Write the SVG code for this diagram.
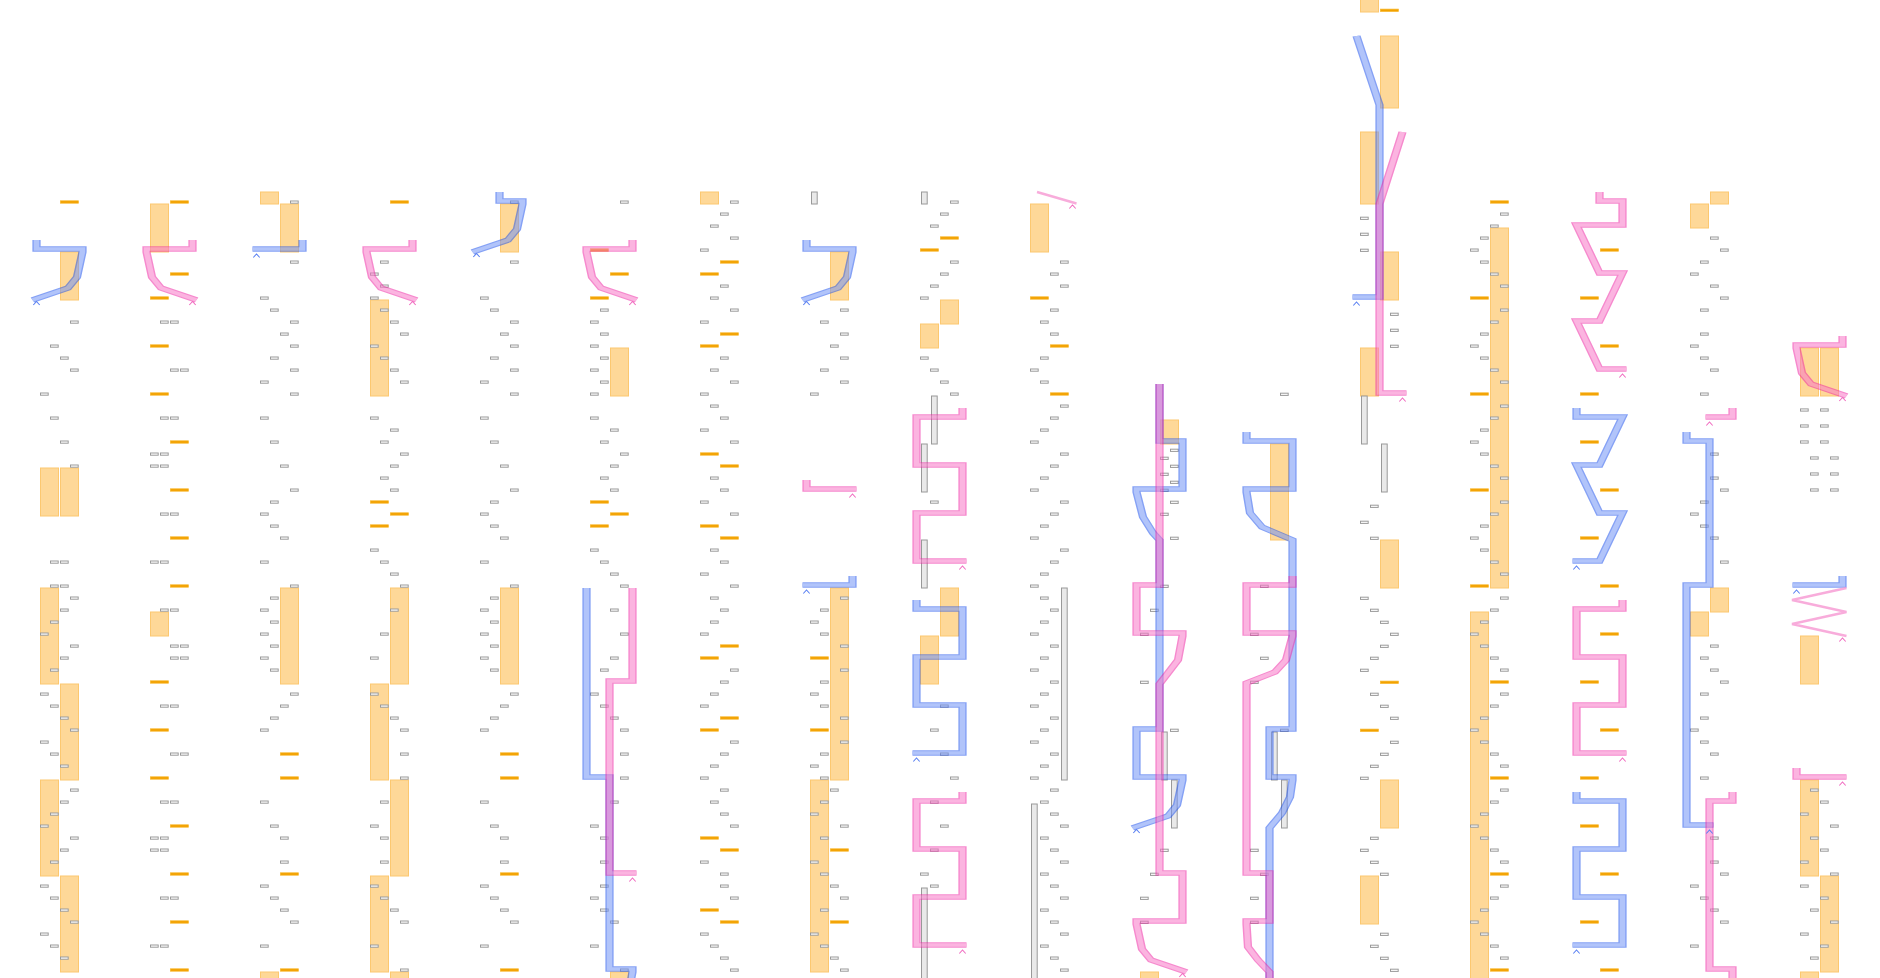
<svg xmlns="http://www.w3.org/2000/svg" width="1880" height="978" viewBox="0 0 1880 978">
<style>
.gr{fill:#fff;stroke:#9a9a9a;stroke-width:1}
.ol{fill:#f2a200;stroke:#f8b62a;stroke-width:.7}
.bx{fill:#fed898;stroke:#fcc870;stroke-width:1}
.dl{fill:#e9e9e9;stroke:#999;stroke-width:1}
.B{opacity:.55}.B .so{stroke:#2356ed;stroke-width:5.5;fill:none}.B .si{stroke:#7394f6;stroke-width:3.6;fill:none}
.P{opacity:.55}.P .so{stroke:#ef2aa6;stroke-width:5.5;fill:none}.P .si{stroke:#f877c7;stroke-width:3.6;fill:none}
.tp{fill:none;stroke:#f590cf;stroke-width:2.4;opacity:.75}
.ab{fill:none;stroke:#5a80f2;stroke-width:1.1}
.ap{fill:none;stroke:#f06cc0;stroke-width:1.1}
</style>
<defs>
<rect id="g" class="gr" width="7.7" height="2.2"/>
<rect id="o" class="ol" width="18" height="2.4"/>
<path id="b0" transform="matrix(1.5 0 0 1 40 0)" d="M-2.33 240V249H28.33V252L24.67 277L18.67 288L-5 300"/>
<path id="b2" transform="matrix(1.5 0 0 1 260 0)" d="M28.33 240V249H-5"/>
<path id="b4" transform="matrix(1.5 0 0 1 480 0)" d="M13 192V201H28.33V204L24.67 229L18.67 240L-5 252"/>
<path id="b5" transform="matrix(1.5 0 0 1 590 0)" d="M-2.33 588V777H13V969H28.33V972L26 990"/>
<path id="b7a" transform="matrix(1.5 0 0 1 810 0)" d="M-2.33 240V249H28.33V252L24.67 277L18.67 288L-5 300"/>
<path id="b7b" transform="matrix(1.5 0 0 1 810 0)" d="M28.33 576V585H-5"/>
<path id="b8" transform="matrix(1.5 0 0 1 920 0)" d="M-2.33 600V609H28.33V657H-2.33V705H28.33V753H-5"/>
<path id="b10" transform="matrix(1.5 0 0 1 1140 0)" d="M13 384V441H28.33V489H-2.33V492L2 517L8.67 533L13 540V729H-2.33V777H28.33V780L24.67 805L18.67 816L-5 828"/>
<path id="b11" transform="matrix(1.5 0 0 1 1250 0)" d="M-2.33 432V441H28.33V489H-2.33V492L0 513L8 527L28.33 540V729H13V777H28.33V780L26.67 797L21.33 813L13 828V990"/>
<path id="b12" transform="matrix(1.5 0 0 1 1360 0)" d="M-2.33 36L13 105V297H-5"/>
<path id="b14a" transform="matrix(1.5 0 0 1 1580 0)" d="M-2.33 408V417H28.33L13 465H-2.33L13 513H28.33L13 561H-5"/>
<path id="b14b" transform="matrix(1.5 0 0 1 1580 0)" d="M-2.33 792V801H28.33V849H-2.33V897H28.33V945H-5"/>
<path id="b15" transform="matrix(1.5 0 0 1 1690 0)" d="M-2.33 432V441H13V585H-2.33V825H15.67"/>
<path id="b16" transform="matrix(1.5 0 0 1 1800 0)" d="M28.33 576V585H-5"/>
<path id="p1" transform="matrix(1.5 0 0 1 150 0)" d="M28.33 240V249H-2.33V252L1.33 277L7.33 288L31 300"/>
<path id="p3" transform="matrix(1.5 0 0 1 370 0)" d="M28.33 240V249H-2.33V252L1.33 277L7.33 288L31 300"/>
<path id="p5a" transform="matrix(1.5 0 0 1 590 0)" d="M28.33 240V249H-2.33V252L1.33 277L7.33 288L31 300"/>
<path id="p5b" transform="matrix(1.5 0 0 1 590 0)" d="M28.33 588V681H13V873H31"/>
<path id="p7" transform="matrix(1.5 0 0 1 810 0)" d="M-2.33 480V489H31"/>
<path id="p8a" transform="matrix(1.5 0 0 1 920 0)" d="M28.33 408V417H-2.33V465H28.33V513H-2.33V561H31"/>
<path id="p8b" transform="matrix(1.5 0 0 1 920 0)" d="M28.33 792V801H-2.33V849H28.33V897H-2.33V945H31"/>
<path id="p10" transform="matrix(1.5 0 0 1 1140 0)" d="M13 384V585H-2.33V633H28.33V636L25.33 660L18.67 673L13 684V873H28.33V921H-2.33V924L1.33 949L7.33 960L31 972"/>
<path id="p11" transform="matrix(1.5 0 0 1 1250 0)" d="M28.33 576V585H-2.33V633H28.33V636L24 660L16.67 672L-2.33 683V873H13V921H-2.33V924L-1.33 947L5.33 960L13 972V990"/>
<path id="p12" transform="matrix(1.5 0 0 1 1360 0)" d="M28.33 132L13 204V393H31"/>
<path id="p14a" transform="matrix(1.5 0 0 1 1580 0)" d="M13 192V201H28.33V225H-2.33L13 273H28.33L13 321H-2.33L13 369H31"/>
<path id="p14b" transform="matrix(1.5 0 0 1 1580 0)" d="M28.33 600V609H-2.33V657H28.33V705H-2.33V753H31"/>
<path id="p15a" transform="matrix(1.5 0 0 1 1690 0)" d="M28.33 408V417H10.33"/>
<path id="p15b" transform="matrix(1.5 0 0 1 1690 0)" d="M28.33 792V801H13V969H28.33V990"/>
<path id="p16a" transform="matrix(1.5 0 0 1 1800 0)" d="M28.33 336V345H-2.33V348L1.33 373L7.33 384L31 396"/>
<path id="p16b" transform="matrix(1.5 0 0 1 1800 0)" d="M-2.33 768V777H31"/>
</defs>
<rect width="1880" height="978" fill="#fff"/>

<g id="col0" transform="translate(40 0)">
<rect class="bx" x="20.5" y="252" width="18" height="48"/><rect class="bx" x="0.5" y="468" width="18" height="48"/><rect class="bx" x="20.5" y="468" width="18" height="48"/><rect class="bx" x="0.5" y="588" width="18" height="96"/><rect class="bx" x="20.5" y="684" width="18" height="96"/><rect class="bx" x="0.5" y="780" width="18" height="96"/><rect class="bx" x="20.5" y="876" width="18" height="96"/>
<use href="#o" x="20.4" y="200.8"/>
<use href="#g" x="30.5" y="321"/><use href="#g" x="10.5" y="345"/><use href="#g" x="20.5" y="357"/><use href="#g" x="30.5" y="369"/><use href="#g" x="0.5" y="393"/><use href="#g" x="10.5" y="417"/><use href="#g" x="20.5" y="441"/><use href="#g" x="30.5" y="465"/><use href="#g" x="10.5" y="561"/><use href="#g" x="20.5" y="561"/><use href="#g" x="10.5" y="585"/><use href="#g" x="20.5" y="585"/><use href="#g" x="30.5" y="597"/><use href="#g" x="20.5" y="609"/><use href="#g" x="10.5" y="621"/><use href="#g" x="0.5" y="633"/><use href="#g" x="30.5" y="645"/><use href="#g" x="20.5" y="657"/><use href="#g" x="10.5" y="669"/><use href="#g" x="0.5" y="693"/><use href="#g" x="10.5" y="705"/><use href="#g" x="20.5" y="717"/><use href="#g" x="30.5" y="729"/><use href="#g" x="0.5" y="741"/><use href="#g" x="10.5" y="753"/><use href="#g" x="20.5" y="765"/><use href="#g" x="30.5" y="789"/><use href="#g" x="20.5" y="801"/><use href="#g" x="10.5" y="813"/><use href="#g" x="0.5" y="825"/><use href="#g" x="30.5" y="837"/><use href="#g" x="20.5" y="849"/><use href="#g" x="10.5" y="861"/><use href="#g" x="0.5" y="885"/><use href="#g" x="10.5" y="897"/><use href="#g" x="20.5" y="909"/><use href="#g" x="30.5" y="921"/><use href="#g" x="0.5" y="933"/><use href="#g" x="10.5" y="945"/><use href="#g" x="20.5" y="957"/>
</g>

<g id="col1" transform="translate(150 0)">
<rect class="bx" x="0.5" y="204" width="18" height="48"/><rect class="bx" x="0.5" y="612" width="18" height="24"/>
<use href="#o" x="20.4" y="200.8"/><use href="#o" x="20.4" y="272.8"/><use href="#o" x="0.4" y="296.8"/><use href="#o" x="0.4" y="344.8"/><use href="#o" x="0.4" y="392.8"/><use href="#o" x="20.4" y="440.8"/><use href="#o" x="20.4" y="488.8"/><use href="#o" x="20.4" y="536.8"/><use href="#o" x="20.4" y="584.8"/><use href="#o" x="0.4" y="680.8"/><use href="#o" x="0.4" y="728.8"/><use href="#o" x="0.4" y="776.8"/><use href="#o" x="20.4" y="824.8"/><use href="#o" x="20.4" y="872.8"/><use href="#o" x="20.4" y="920.8"/><use href="#o" x="20.4" y="968.8"/>
<use href="#g" x="10.5" y="321"/><use href="#g" x="20.5" y="321"/><use href="#g" x="20.5" y="369"/><use href="#g" x="30.5" y="369"/><use href="#g" x="10.5" y="417"/><use href="#g" x="20.5" y="417"/><use href="#g" x="0.5" y="453"/><use href="#g" x="10.5" y="453"/><use href="#g" x="0.5" y="465"/><use href="#g" x="10.5" y="465"/><use href="#g" x="10.5" y="513"/><use href="#g" x="20.5" y="513"/><use href="#g" x="0.5" y="561"/><use href="#g" x="10.5" y="561"/><use href="#g" x="10.5" y="609"/><use href="#g" x="20.5" y="609"/><use href="#g" x="20.5" y="645"/><use href="#g" x="30.5" y="645"/><use href="#g" x="20.5" y="657"/><use href="#g" x="30.5" y="657"/><use href="#g" x="10.5" y="705"/><use href="#g" x="20.5" y="705"/><use href="#g" x="20.5" y="753"/><use href="#g" x="30.5" y="753"/><use href="#g" x="10.5" y="801"/><use href="#g" x="20.5" y="801"/><use href="#g" x="0.5" y="837"/><use href="#g" x="10.5" y="837"/><use href="#g" x="0.5" y="849"/><use href="#g" x="10.5" y="849"/><use href="#g" x="10.5" y="897"/><use href="#g" x="20.5" y="897"/><use href="#g" x="0.5" y="945"/><use href="#g" x="10.5" y="945"/>
</g>

<g id="col2" transform="translate(260 0)">
<rect class="bx" x="0.5" y="192" width="18" height="12"/><rect class="bx" x="20.5" y="204" width="18" height="48"/><rect class="bx" x="20.5" y="588" width="18" height="96"/><rect class="bx" x="0.5" y="972" width="18" height="12"/>
<use href="#o" x="20.4" y="752.8"/><use href="#o" x="20.4" y="776.8"/><use href="#o" x="20.4" y="872.8"/><use href="#o" x="20.4" y="968.8"/>
<use href="#g" x="30.5" y="201"/><use href="#g" x="30.5" y="261"/><use href="#g" x="0.5" y="297"/><use href="#g" x="10.5" y="309"/><use href="#g" x="30.5" y="321"/><use href="#g" x="20.5" y="333"/><use href="#g" x="30.5" y="345"/><use href="#g" x="10.5" y="357"/><use href="#g" x="30.5" y="369"/><use href="#g" x="0.5" y="381"/><use href="#g" x="30.5" y="393"/><use href="#g" x="0.5" y="417"/><use href="#g" x="10.5" y="441"/><use href="#g" x="20.5" y="465"/><use href="#g" x="30.5" y="489"/><use href="#g" x="10.5" y="501"/><use href="#g" x="0.5" y="513"/><use href="#g" x="10.5" y="525"/><use href="#g" x="20.5" y="537"/><use href="#g" x="0.5" y="561"/><use href="#g" x="30.5" y="585"/><use href="#g" x="10.5" y="597"/><use href="#g" x="0.5" y="609"/><use href="#g" x="10.5" y="621"/><use href="#g" x="0.5" y="633"/><use href="#g" x="10.5" y="645"/><use href="#g" x="0.5" y="657"/><use href="#g" x="10.5" y="669"/><use href="#g" x="30.5" y="693"/><use href="#g" x="20.5" y="705"/><use href="#g" x="10.5" y="717"/><use href="#g" x="0.5" y="729"/><use href="#g" x="0.5" y="801"/><use href="#g" x="10.5" y="825"/><use href="#g" x="20.5" y="837"/><use href="#g" x="20.5" y="861"/><use href="#g" x="0.5" y="885"/><use href="#g" x="10.5" y="897"/><use href="#g" x="20.5" y="909"/><use href="#g" x="30.5" y="921"/><use href="#g" x="0.5" y="945"/>
</g>

<g id="col3" transform="translate(370 0)">
<rect class="bx" x="0.5" y="300" width="18" height="96"/><rect class="bx" x="20.5" y="588" width="18" height="96"/><rect class="bx" x="0.5" y="684" width="18" height="96"/><rect class="bx" x="20.5" y="780" width="18" height="96"/><rect class="bx" x="0.5" y="876" width="18" height="96"/><rect class="bx" x="20.5" y="972" width="18" height="12"/>
<use href="#o" x="20.4" y="200.8"/><use href="#o" x="0.4" y="500.8"/><use href="#o" x="20.4" y="512.8"/><use href="#o" x="0.4" y="524.8"/>
<use href="#g" x="10.5" y="261"/><use href="#g" x="0.5" y="273"/><use href="#g" x="10.5" y="285"/><use href="#g" x="0.5" y="297"/><use href="#g" x="10.5" y="309"/><use href="#g" x="20.5" y="321"/><use href="#g" x="30.5" y="333"/><use href="#g" x="0.5" y="345"/><use href="#g" x="10.5" y="357"/><use href="#g" x="20.5" y="369"/><use href="#g" x="30.5" y="381"/><use href="#g" x="0.5" y="417"/><use href="#g" x="20.5" y="429"/><use href="#g" x="10.5" y="441"/><use href="#g" x="30.5" y="453"/><use href="#g" x="20.5" y="465"/><use href="#g" x="10.5" y="477"/><use href="#g" x="20.5" y="489"/><use href="#g" x="0.5" y="549"/><use href="#g" x="10.5" y="561"/><use href="#g" x="20.5" y="573"/><use href="#g" x="30.5" y="585"/><use href="#g" x="20.5" y="609"/><use href="#g" x="10.5" y="633"/><use href="#g" x="0.5" y="657"/><use href="#g" x="0.5" y="693"/><use href="#g" x="10.5" y="705"/><use href="#g" x="20.5" y="717"/><use href="#g" x="30.5" y="729"/><use href="#g" x="30.5" y="753"/><use href="#g" x="30.5" y="777"/><use href="#g" x="10.5" y="801"/><use href="#g" x="0.5" y="825"/><use href="#g" x="10.5" y="837"/><use href="#g" x="10.5" y="861"/><use href="#g" x="0.5" y="885"/><use href="#g" x="10.5" y="897"/><use href="#g" x="20.5" y="909"/><use href="#g" x="30.5" y="921"/><use href="#g" x="0.5" y="945"/><use href="#g" x="30.5" y="969"/>
</g>

<g id="col4" transform="translate(480 0)">
<rect class="bx" x="20.5" y="204" width="18" height="48"/><rect class="bx" x="20.5" y="588" width="18" height="96"/>
<use href="#o" x="20.4" y="752.8"/><use href="#o" x="20.4" y="776.8"/><use href="#o" x="20.4" y="872.8"/><use href="#o" x="20.4" y="968.8"/>
<use href="#g" x="30.5" y="201"/><use href="#g" x="30.5" y="261"/><use href="#g" x="0.5" y="297"/><use href="#g" x="10.5" y="309"/><use href="#g" x="30.5" y="321"/><use href="#g" x="20.5" y="333"/><use href="#g" x="30.5" y="345"/><use href="#g" x="10.5" y="357"/><use href="#g" x="30.5" y="369"/><use href="#g" x="0.5" y="381"/><use href="#g" x="30.5" y="393"/><use href="#g" x="0.5" y="417"/><use href="#g" x="10.5" y="441"/><use href="#g" x="20.5" y="465"/><use href="#g" x="30.5" y="489"/><use href="#g" x="10.5" y="501"/><use href="#g" x="0.5" y="513"/><use href="#g" x="10.5" y="525"/><use href="#g" x="20.5" y="537"/><use href="#g" x="0.5" y="561"/><use href="#g" x="30.5" y="585"/><use href="#g" x="10.5" y="597"/><use href="#g" x="0.5" y="609"/><use href="#g" x="10.5" y="621"/><use href="#g" x="0.5" y="633"/><use href="#g" x="10.5" y="645"/><use href="#g" x="0.5" y="657"/><use href="#g" x="10.5" y="669"/><use href="#g" x="30.5" y="693"/><use href="#g" x="20.5" y="705"/><use href="#g" x="10.5" y="717"/><use href="#g" x="0.5" y="729"/><use href="#g" x="0.5" y="801"/><use href="#g" x="10.5" y="825"/><use href="#g" x="20.5" y="837"/><use href="#g" x="20.5" y="861"/><use href="#g" x="0.5" y="885"/><use href="#g" x="10.5" y="897"/><use href="#g" x="20.5" y="909"/><use href="#g" x="30.5" y="921"/><use href="#g" x="0.5" y="945"/>
</g>

<g id="col5" transform="translate(590 0)">
<rect class="bx" x="20.5" y="348" width="18" height="48"/><rect class="bx" x="20.5" y="972" width="18" height="12"/>
<use href="#o" x="0.4" y="248.8"/><use href="#o" x="20.4" y="272.8"/><use href="#o" x="0.4" y="296.8"/><use href="#o" x="0.4" y="500.8"/><use href="#o" x="20.4" y="512.8"/><use href="#o" x="0.4" y="524.8"/>
<use href="#g" x="30.5" y="201"/><use href="#g" x="10.5" y="309"/><use href="#g" x="0.5" y="321"/><use href="#g" x="10.5" y="333"/><use href="#g" x="0.5" y="345"/><use href="#g" x="10.5" y="357"/><use href="#g" x="0.5" y="369"/><use href="#g" x="10.5" y="381"/><use href="#g" x="0.5" y="393"/><use href="#g" x="0.5" y="417"/><use href="#g" x="20.5" y="429"/><use href="#g" x="10.5" y="441"/><use href="#g" x="30.5" y="453"/><use href="#g" x="20.5" y="465"/><use href="#g" x="10.5" y="477"/><use href="#g" x="20.5" y="489"/><use href="#g" x="0.5" y="549"/><use href="#g" x="10.5" y="561"/><use href="#g" x="20.5" y="573"/><use href="#g" x="30.5" y="585"/><use href="#g" x="20.5" y="609"/><use href="#g" x="30.5" y="633"/><use href="#g" x="20.5" y="657"/><use href="#g" x="10.5" y="669"/><use href="#g" x="0.5" y="693"/><use href="#g" x="10.5" y="705"/><use href="#g" x="20.5" y="717"/><use href="#g" x="30.5" y="729"/><use href="#g" x="30.5" y="753"/><use href="#g" x="30.5" y="777"/><use href="#g" x="20.5" y="801"/><use href="#g" x="0.5" y="825"/><use href="#g" x="10.5" y="837"/><use href="#g" x="10.5" y="861"/><use href="#g" x="10.5" y="885"/><use href="#g" x="0.5" y="897"/><use href="#g" x="10.5" y="909"/><use href="#g" x="20.5" y="921"/><use href="#g" x="0.5" y="945"/><use href="#g" x="30.5" y="969"/>
</g>

<g id="col6" transform="translate(700 0)">
<rect class="bx" x="0.5" y="192" width="18" height="12"/>
<use href="#o" x="20.4" y="260.8"/><use href="#o" x="0.4" y="272.8"/><use href="#o" x="20.4" y="332.8"/><use href="#o" x="0.4" y="344.8"/><use href="#o" x="0.4" y="452.8"/><use href="#o" x="20.4" y="464.8"/><use href="#o" x="0.4" y="524.8"/><use href="#o" x="20.4" y="536.8"/><use href="#o" x="20.4" y="644.8"/><use href="#o" x="0.4" y="656.8"/><use href="#o" x="20.4" y="716.8"/><use href="#o" x="0.4" y="728.8"/><use href="#o" x="0.4" y="836.8"/><use href="#o" x="20.4" y="848.8"/><use href="#o" x="0.4" y="908.8"/><use href="#o" x="20.4" y="920.8"/>
<use href="#g" x="30.5" y="201"/><use href="#g" x="20.5" y="213"/><use href="#g" x="10.5" y="225"/><use href="#g" x="30.5" y="237"/><use href="#g" x="0.5" y="249"/><use href="#g" x="20.5" y="285"/><use href="#g" x="10.5" y="297"/><use href="#g" x="30.5" y="309"/><use href="#g" x="0.5" y="321"/><use href="#g" x="20.5" y="357"/><use href="#g" x="10.5" y="369"/><use href="#g" x="30.5" y="381"/><use href="#g" x="0.5" y="393"/><use href="#g" x="10.5" y="405"/><use href="#g" x="20.5" y="417"/><use href="#g" x="0.5" y="429"/><use href="#g" x="30.5" y="441"/><use href="#g" x="10.5" y="477"/><use href="#g" x="20.5" y="489"/><use href="#g" x="0.5" y="501"/><use href="#g" x="30.5" y="513"/><use href="#g" x="10.5" y="549"/><use href="#g" x="20.5" y="561"/><use href="#g" x="0.5" y="573"/><use href="#g" x="30.5" y="585"/><use href="#g" x="10.5" y="597"/><use href="#g" x="20.5" y="609"/><use href="#g" x="10.5" y="621"/><use href="#g" x="0.5" y="633"/><use href="#g" x="30.5" y="669"/><use href="#g" x="20.5" y="681"/><use href="#g" x="10.5" y="693"/><use href="#g" x="0.5" y="705"/><use href="#g" x="30.5" y="741"/><use href="#g" x="20.5" y="753"/><use href="#g" x="10.5" y="765"/><use href="#g" x="0.5" y="777"/><use href="#g" x="20.5" y="789"/><use href="#g" x="10.5" y="801"/><use href="#g" x="20.5" y="813"/><use href="#g" x="30.5" y="825"/><use href="#g" x="0.5" y="861"/><use href="#g" x="20.5" y="873"/><use href="#g" x="20.5" y="885"/><use href="#g" x="30.5" y="897"/><use href="#g" x="0.5" y="933"/><use href="#g" x="10.5" y="945"/><use href="#g" x="20.5" y="957"/><use href="#g" x="30.5" y="969"/>
</g>

<g id="col7" transform="translate(810 0)">
<rect class="bx" x="20.5" y="252" width="18" height="48"/><rect class="bx" x="20.5" y="588" width="18" height="192"/><rect class="bx" x="0.5" y="780" width="18" height="192"/>
<rect class="dl" x="1.5" y="192" width="5.7" height="12"/>
<use href="#o" x="0.4" y="656.8"/><use href="#o" x="0.4" y="728.8"/><use href="#o" x="20.4" y="848.8"/><use href="#o" x="20.4" y="920.8"/>
<use href="#g" x="30.5" y="309"/><use href="#g" x="10.5" y="321"/><use href="#g" x="30.5" y="333"/><use href="#g" x="20.5" y="345"/><use href="#g" x="30.5" y="357"/><use href="#g" x="10.5" y="369"/><use href="#g" x="30.5" y="381"/><use href="#g" x="0.5" y="393"/>
<use href="#g" x="30.5" y="597"/><use href="#g" x="10.5" y="609"/><use href="#g" x="0.5" y="621"/><use href="#g" x="10.5" y="633"/><use href="#g" x="30.5" y="645"/><use href="#g" x="30.5" y="669"/><use href="#g" x="10.5" y="681"/><use href="#g" x="0.5" y="693"/><use href="#g" x="10.5" y="705"/><use href="#g" x="30.5" y="717"/><use href="#g" x="30.5" y="741"/><use href="#g" x="10.5" y="753"/><use href="#g" x="0.5" y="765"/><use href="#g" x="10.5" y="777"/><use href="#g" x="20.5" y="789"/><use href="#g" x="10.5" y="801"/><use href="#g" x="0.5" y="813"/><use href="#g" x="30.5" y="825"/><use href="#g" x="10.5" y="837"/><use href="#g" x="0.5" y="861"/><use href="#g" x="10.5" y="873"/><use href="#g" x="20.5" y="885"/><use href="#g" x="30.5" y="897"/><use href="#g" x="10.5" y="909"/><use href="#g" x="0.5" y="933"/><use href="#g" x="10.5" y="945"/><use href="#g" x="20.5" y="957"/><use href="#g" x="30.5" y="969"/>
</g>

<g id="col8" transform="translate(920 0)">
<rect class="bx" x="20.5" y="300" width="18" height="24"/><rect class="bx" x="0.5" y="324" width="18" height="24"/><rect class="bx" x="20.5" y="588" width="18" height="48"/><rect class="bx" x="0.5" y="636" width="18" height="48"/>
<rect class="dl" x="1.5" y="192" width="5.7" height="12"/><rect class="dl" x="11.5" y="396" width="5.7" height="48"/><rect class="dl" x="1.5" y="444" width="5.7" height="48"/><rect class="dl" x="1.5" y="540" width="5.7" height="48"/><rect class="dl" x="1.5" y="888" width="5.7" height="92"/>
<use href="#o" x="20.4" y="236.8"/><use href="#o" x="0.4" y="248.8"/>
<use href="#g" x="30.5" y="201"/><use href="#g" x="20.5" y="213"/><use href="#g" x="10.5" y="225"/><use href="#g" x="30.5" y="261"/><use href="#g" x="20.5" y="273"/><use href="#g" x="10.5" y="285"/><use href="#g" x="0.5" y="297"/><use href="#g" x="0.5" y="357"/><use href="#g" x="10.5" y="369"/><use href="#g" x="20.5" y="381"/><use href="#g" x="30.5" y="393"/><use href="#g" x="10.5" y="501"/><use href="#g" x="20.5" y="705"/><use href="#g" x="10.5" y="729"/><use href="#g" x="20.5" y="753"/><use href="#g" x="30.5" y="777"/><use href="#g" x="10.5" y="801"/><use href="#g" x="20.5" y="825"/><use href="#g" x="10.5" y="849"/><use href="#g" x="0.5" y="873"/><use href="#g" x="10.5" y="885"/>
</g>

<g id="col9" transform="translate(1030 0)">
<rect class="bx" x="0.5" y="204" width="18" height="48"/>
<rect class="dl" x="31.5" y="588" width="5.7" height="192"/><rect class="dl" x="1.5" y="804" width="5.7" height="176"/>
<use href="#o" x="0.4" y="296.8"/><use href="#o" x="20.4" y="344.8"/><use href="#o" x="20.4" y="392.8"/>
<use href="#g" x="30.5" y="261"/><use href="#g" x="20.5" y="273"/><use href="#g" x="30.5" y="285"/><use href="#g" x="20.5" y="309"/><use href="#g" x="10.5" y="321"/><use href="#g" x="20.5" y="333"/><use href="#g" x="10.5" y="357"/><use href="#g" x="0.5" y="369"/><use href="#g" x="10.5" y="381"/><use href="#g" x="30.5" y="405"/><use href="#g" x="20.5" y="417"/><use href="#g" x="10.5" y="429"/><use href="#g" x="0.5" y="441"/><use href="#g" x="30.5" y="453"/><use href="#g" x="20.5" y="465"/><use href="#g" x="10.5" y="477"/><use href="#g" x="0.5" y="489"/><use href="#g" x="30.5" y="501"/><use href="#g" x="20.5" y="513"/><use href="#g" x="10.5" y="525"/><use href="#g" x="0.5" y="537"/><use href="#g" x="30.5" y="549"/><use href="#g" x="20.5" y="561"/><use href="#g" x="10.5" y="573"/><use href="#g" x="0.5" y="585"/><use href="#g" x="10.5" y="597"/><use href="#g" x="20.5" y="609"/><use href="#g" x="10.5" y="621"/><use href="#g" x="0.5" y="633"/><use href="#g" x="20.5" y="645"/><use href="#g" x="10.5" y="657"/><use href="#g" x="0.5" y="669"/><use href="#g" x="20.5" y="681"/><use href="#g" x="10.5" y="693"/><use href="#g" x="0.5" y="705"/><use href="#g" x="20.5" y="717"/><use href="#g" x="10.5" y="729"/><use href="#g" x="0.5" y="741"/><use href="#g" x="20.5" y="753"/><use href="#g" x="10.5" y="765"/><use href="#g" x="0.5" y="777"/><use href="#g" x="20.5" y="789"/><use href="#g" x="10.5" y="801"/><use href="#g" x="20.5" y="813"/><use href="#g" x="30.5" y="825"/><use href="#g" x="10.5" y="837"/><use href="#g" x="20.5" y="849"/><use href="#g" x="30.5" y="861"/><use href="#g" x="10.5" y="873"/><use href="#g" x="20.5" y="885"/><use href="#g" x="30.5" y="897"/><use href="#g" x="10.5" y="909"/><use href="#g" x="20.5" y="921"/><use href="#g" x="30.5" y="933"/><use href="#g" x="10.5" y="945"/><use href="#g" x="20.5" y="957"/><use href="#g" x="30.5" y="969"/>
</g>

<g id="col10" transform="translate(1140 0)">
<rect class="bx" x="20.5" y="420" width="18" height="24"/><rect class="bx" x="0.5" y="972" width="18" height="12"/>
<rect class="dl" x="21.5" y="732" width="5.7" height="48"/><rect class="dl" x="31.5" y="780" width="5.7" height="48"/>
<use href="#g" x="30.5" y="449.2"/><use href="#g" x="20.5" y="457.2"/><use href="#g" x="30.5" y="465.2"/><use href="#g" x="20.5" y="473.2"/><use href="#g" x="30.5" y="481.2"/><use href="#g" x="20.5" y="489.2"/><use href="#g" x="30.5" y="501.2"/><use href="#g" x="20.5" y="513.2"/><use href="#g" x="30.5" y="537.2"/><use href="#g" x="20.5" y="585.2"/><use href="#g" x="10.5" y="609.2"/><use href="#g" x="0.5" y="633.2"/><use href="#g" x="0.5" y="681.2"/><use href="#g" x="30.5" y="729.2"/><use href="#g" x="20.5" y="849.2"/><use href="#g" x="10.5" y="873.2"/><use href="#g" x="0.5" y="897.2"/><use href="#g" x="0.5" y="921.2"/>
</g>

<g id="col11" transform="translate(1250 0)">
<rect class="bx" x="20.5" y="444" width="18" height="96"/>
<rect class="dl" x="21.5" y="732" width="5.7" height="48"/><rect class="dl" x="31.5" y="780" width="5.7" height="48"/>
<use href="#g" x="30.5" y="393.2"/><use href="#g" x="10.5" y="585.2"/><use href="#g" x="0.5" y="633.2"/><use href="#g" x="10.5" y="657.2"/><use href="#g" x="0.5" y="681.2"/><use href="#g" x="30.5" y="729.2"/><use href="#g" x="0.5" y="849.2"/><use href="#g" x="10.5" y="873.2"/><use href="#g" x="0.5" y="897.2"/><use href="#g" x="0.5" y="921.2"/>
</g>

<g id="col12" transform="translate(1360 0)">
<rect class="bx" x="0.5" y="-2" width="18" height="14"/><rect class="bx" x="20.5" y="36" width="18" height="72"/><rect class="bx" x="0.5" y="132" width="18" height="72"/><rect class="bx" x="20.5" y="252" width="18" height="48"/><rect class="bx" x="0.5" y="348" width="18" height="48"/><rect class="bx" x="20.5" y="540" width="18" height="48"/><rect class="bx" x="20.5" y="780" width="18" height="48"/><rect class="bx" x="0.5" y="876" width="18" height="48"/>
<rect class="dl" x="1.5" y="396" width="5.7" height="48"/><rect class="dl" x="21.5" y="444" width="5.7" height="48"/>
<use href="#o" x="20.4" y="9.1"/><use href="#o" x="20.4" y="681.1"/><use href="#o" x="0.4" y="729.1"/>
<use href="#g" x="0.5" y="217.2"/><use href="#g" x="0.5" y="233.2"/><use href="#g" x="0.5" y="249.2"/><use href="#g" x="30.5" y="313.2"/><use href="#g" x="30.5" y="329.2"/><use href="#g" x="30.5" y="345.2"/><use href="#g" x="10.5" y="505.2"/><use href="#g" x="0.5" y="521.2"/><use href="#g" x="10.5" y="537.2"/><use href="#g" x="0.5" y="597.2"/><use href="#g" x="10.5" y="609.2"/><use href="#g" x="20.5" y="621.2"/><use href="#g" x="30.5" y="633.2"/><use href="#g" x="20.5" y="645.2"/><use href="#g" x="10.5" y="657.2"/><use href="#g" x="0.5" y="669.2"/><use href="#g" x="10.5" y="693.2"/><use href="#g" x="20.5" y="705.2"/><use href="#g" x="30.5" y="717.2"/><use href="#g" x="30.5" y="741.2"/><use href="#g" x="20.5" y="753.2"/><use href="#g" x="10.5" y="765.2"/><use href="#g" x="0.5" y="777.2"/><use href="#g" x="10.5" y="837.2"/><use href="#g" x="0.5" y="849.2"/><use href="#g" x="10.5" y="861.2"/><use href="#g" x="20.5" y="873.2"/><use href="#g" x="20.5" y="933.2"/><use href="#g" x="10.5" y="945.2"/><use href="#g" x="20.5" y="957.2"/><use href="#g" x="30.5" y="969.2"/>
</g>

<g id="col13" transform="translate(1470 0)">
<rect class="bx" x="20.5" y="228" width="18" height="360"/><rect class="bx" x="0.5" y="612" width="18" height="372"/>
<use href="#o" x="20.4" y="200.8"/><use href="#o" x="0.4" y="296.8"/><use href="#o" x="0.4" y="392.8"/><use href="#o" x="0.4" y="488.8"/><use href="#o" x="0.4" y="584.8"/><use href="#o" x="20.4" y="680.8"/><use href="#o" x="20.4" y="776.8"/><use href="#o" x="20.4" y="872.8"/><use href="#o" x="20.4" y="968.8"/>
<use href="#g" x="30.5" y="213"/><use href="#g" x="20.5" y="225"/><use href="#g" x="10.5" y="237"/><use href="#g" x="0.5" y="249"/><use href="#g" x="10.5" y="261"/><use href="#g" x="20.5" y="273"/><use href="#g" x="30.5" y="285"/><use href="#g" x="30.5" y="309"/><use href="#g" x="20.5" y="321"/><use href="#g" x="10.5" y="333"/><use href="#g" x="0.5" y="345"/><use href="#g" x="10.5" y="357"/><use href="#g" x="20.5" y="369"/><use href="#g" x="30.5" y="381"/><use href="#g" x="30.5" y="405"/><use href="#g" x="20.5" y="417"/><use href="#g" x="10.5" y="429"/><use href="#g" x="0.5" y="441"/><use href="#g" x="10.5" y="453"/><use href="#g" x="20.5" y="465"/><use href="#g" x="30.5" y="477"/><use href="#g" x="30.5" y="501"/><use href="#g" x="20.5" y="513"/><use href="#g" x="10.5" y="525"/><use href="#g" x="0.5" y="537"/><use href="#g" x="10.5" y="549"/><use href="#g" x="20.5" y="561"/><use href="#g" x="30.5" y="573"/><use href="#g" x="30.5" y="597"/><use href="#g" x="20.5" y="609"/><use href="#g" x="10.5" y="621"/><use href="#g" x="0.5" y="633"/><use href="#g" x="10.5" y="645"/><use href="#g" x="20.5" y="657"/><use href="#g" x="30.5" y="669"/><use href="#g" x="30.5" y="693"/><use href="#g" x="20.5" y="705"/><use href="#g" x="10.5" y="717"/><use href="#g" x="0.5" y="729"/><use href="#g" x="10.5" y="741"/><use href="#g" x="20.5" y="753"/><use href="#g" x="30.5" y="765"/><use href="#g" x="30.5" y="789"/><use href="#g" x="20.5" y="801"/><use href="#g" x="10.5" y="813"/><use href="#g" x="0.5" y="825"/><use href="#g" x="10.5" y="837"/><use href="#g" x="20.5" y="849"/><use href="#g" x="30.5" y="861"/><use href="#g" x="30.5" y="885"/><use href="#g" x="20.5" y="897"/><use href="#g" x="10.5" y="909"/><use href="#g" x="0.5" y="921"/><use href="#g" x="10.5" y="933"/><use href="#g" x="20.5" y="945"/><use href="#g" x="30.5" y="957"/>
</g>

<g id="col14" transform="translate(1580 0)">
<use href="#o" x="20.4" y="248.8"/><use href="#o" x="0.4" y="296.8"/><use href="#o" x="20.4" y="344.8"/><use href="#o" x="0.4" y="392.8"/><use href="#o" x="0.4" y="440.8"/><use href="#o" x="20.4" y="488.8"/><use href="#o" x="0.4" y="536.8"/><use href="#o" x="20.4" y="584.8"/><use href="#o" x="20.4" y="632.8"/><use href="#o" x="0.4" y="680.8"/><use href="#o" x="20.4" y="728.8"/><use href="#o" x="0.4" y="776.8"/><use href="#o" x="0.4" y="824.8"/><use href="#o" x="20.4" y="872.8"/><use href="#o" x="0.4" y="920.8"/><use href="#o" x="20.4" y="968.8"/>
</g>

<g id="col15" transform="translate(1690 0)">
<rect class="bx" x="20.5" y="192" width="18" height="12"/><rect class="bx" x="0.5" y="204" width="18" height="24"/><rect class="bx" x="20.5" y="588" width="18" height="24"/><rect class="bx" x="0.5" y="612" width="18" height="24"/>
<use href="#g" x="20.5" y="237"/><use href="#g" x="30.5" y="249"/><use href="#g" x="10.5" y="261"/><use href="#g" x="0.5" y="273"/><use href="#g" x="20.5" y="285"/><use href="#g" x="30.5" y="297"/><use href="#g" x="10.5" y="309"/><use href="#g" x="10.5" y="333"/><use href="#g" x="0.5" y="345"/><use href="#g" x="10.5" y="357"/><use href="#g" x="20.5" y="369"/><use href="#g" x="10.5" y="393"/><use href="#g" x="20.5" y="453"/><use href="#g" x="20.5" y="477"/><use href="#g" x="30.5" y="489"/><use href="#g" x="10.5" y="501"/><use href="#g" x="0.5" y="513"/><use href="#g" x="10.5" y="525"/><use href="#g" x="20.5" y="537"/><use href="#g" x="30.5" y="561"/><use href="#g" x="20.5" y="645"/><use href="#g" x="10.5" y="657"/><use href="#g" x="20.5" y="669"/><use href="#g" x="30.5" y="681"/><use href="#g" x="10.5" y="693"/><use href="#g" x="10.5" y="717"/><use href="#g" x="0.5" y="729"/><use href="#g" x="10.5" y="741"/><use href="#g" x="20.5" y="753"/><use href="#g" x="10.5" y="777"/><use href="#g" x="20.5" y="837"/><use href="#g" x="20.5" y="861"/><use href="#g" x="30.5" y="873"/><use href="#g" x="0.5" y="885"/><use href="#g" x="10.5" y="897"/><use href="#g" x="20.5" y="909"/><use href="#g" x="30.5" y="921"/><use href="#g" x="0.5" y="945"/>
</g>

<g id="col16" transform="translate(1800 0)">
<rect class="bx" x="0.5" y="348" width="18" height="48"/><rect class="bx" x="20.5" y="348" width="18" height="48"/><rect class="bx" x="0.5" y="636" width="18" height="48"/><rect class="bx" x="0.5" y="780" width="18" height="96"/><rect class="bx" x="20.5" y="876" width="18" height="96"/><rect class="bx" x="0.5" y="972" width="18" height="12"/>
<use href="#g" x="0.5" y="408.9"/><use href="#g" x="20.5" y="408.9"/><use href="#g" x="0.5" y="424.9"/><use href="#g" x="20.5" y="424.9"/><use href="#g" x="0.5" y="440.9"/><use href="#g" x="20.5" y="440.9"/><use href="#g" x="10.5" y="456.9"/><use href="#g" x="30.5" y="456.9"/><use href="#g" x="10.5" y="472.9"/><use href="#g" x="30.5" y="472.9"/><use href="#g" x="10.5" y="488.9"/><use href="#g" x="30.5" y="488.9"/>
<use href="#g" x="10.5" y="789"/><use href="#g" x="20.5" y="801"/><use href="#g" x="0.5" y="813"/><use href="#g" x="30.5" y="825"/><use href="#g" x="10.5" y="837"/><use href="#g" x="20.5" y="849"/><use href="#g" x="0.5" y="861"/><use href="#g" x="30.5" y="873"/><use href="#g" x="0.5" y="885"/><use href="#g" x="20.5" y="897"/><use href="#g" x="10.5" y="909"/><use href="#g" x="30.5" y="921"/><use href="#g" x="0.5" y="933"/><use href="#g" x="20.5" y="945"/><use href="#g" x="10.5" y="957"/>
</g>

<g id="connectors">
<g class="B"><use href="#b0" class="so"/><use href="#b0" class="si"/></g>
<g class="B"><use href="#b2" class="so"/><use href="#b2" class="si"/></g>
<g class="B"><use href="#b4" class="so"/><use href="#b4" class="si"/></g>
<g class="B"><use href="#b5" class="so"/><use href="#b5" class="si"/></g>
<g class="B"><use href="#b7a" class="so"/><use href="#b7a" class="si"/></g>
<g class="B"><use href="#b7b" class="so"/><use href="#b7b" class="si"/></g>
<g class="B"><use href="#b8" class="so"/><use href="#b8" class="si"/></g>
<g class="B"><use href="#b10" class="so"/><use href="#b10" class="si"/></g>
<g class="B"><use href="#b11" class="so"/><use href="#b11" class="si"/></g>
<g class="B"><use href="#b12" class="so"/><use href="#b12" class="si"/></g>
<g class="B"><use href="#b14a" class="so"/><use href="#b14a" class="si"/></g>
<g class="B"><use href="#b14b" class="so"/><use href="#b14b" class="si"/></g>
<g class="B"><use href="#b15" class="so"/><use href="#b15" class="si"/></g>
<g class="B"><use href="#b16" class="so"/><use href="#b16" class="si"/></g>
<g class="P"><use href="#p1" class="so"/><use href="#p1" class="si"/></g>
<g class="P"><use href="#p3" class="so"/><use href="#p3" class="si"/></g>
<g class="P"><use href="#p5a" class="so"/><use href="#p5a" class="si"/></g>
<g class="P"><use href="#p5b" class="so"/><use href="#p5b" class="si"/></g>
<g class="P"><use href="#p7" class="so"/><use href="#p7" class="si"/></g>
<g class="P"><use href="#p8a" class="so"/><use href="#p8a" class="si"/></g>
<g class="P"><use href="#p8b" class="so"/><use href="#p8b" class="si"/></g>
<g class="P"><use href="#p10" class="so"/><use href="#p10" class="si"/></g>
<g class="P"><use href="#p11" class="so"/><use href="#p11" class="si"/></g>
<g class="P"><use href="#p12" class="so"/><use href="#p12" class="si"/></g>
<g class="P"><use href="#p14a" class="so"/><use href="#p14a" class="si"/></g>
<g class="P"><use href="#p14b" class="so"/><use href="#p14b" class="si"/></g>
<g class="P"><use href="#p15a" class="so"/><use href="#p15a" class="si"/></g>
<g class="P"><use href="#p15b" class="so"/><use href="#p15b" class="si"/></g>
<g class="P"><use href="#p16a" class="so"/><use href="#p16a" class="si"/></g>
<g class="P"><use href="#p16b" class="so"/><use href="#p16b" class="si"/></g>
<path class="tp" d="M1037 192L1076.5 203.5"/>
<path class="tp" d="M1846.5 588L1792 600L1846.5 612L1792 624L1846.5 636"/>
<path class="ab" d="M33.3 305L36.5 301.5L39.7 305M253.3 257.5L256.5 254L259.7 257.5M473.3 257L476.5 253.5L479.7 257M803.3 305L806.5 301.5L809.7 305M803.3 593.5L806.5 590L809.7 593.5M913.3 761.5L916.5 758L919.7 761.5M1133.3 833L1136.5 829.5L1139.7 833M1353.3 305.5L1356.5 302L1359.7 305.5M1573.3 569.5L1576.5 566L1579.7 569.5M1573.3 953.5L1576.5 950L1579.7 953.5M1706.3 833.5L1709.5 830L1712.7 833.5M1793.3 593.5L1796.5 590L1799.7 593.5"/>
<path class="ap" d="M189.3 305L192.5 301.5L195.7 305M409.3 305L412.5 301.5L415.7 305M629.3 305L632.5 301.5L635.7 305M629.3 881.5L632.5 878L635.7 881.5M849.3 497.5L852.5 494L855.7 497.5M959.3 569.5L962.5 566L965.7 569.5M959.3 953.5L962.5 950L965.7 953.5M1069.3 208.5L1072.5 205L1075.7 208.5M1179.3 977L1182.5 973.5L1185.7 977M1399.3 401.5L1402.5 398L1405.7 401.5M1619.3 377.5L1622.5 374L1625.7 377.5M1619.3 761.5L1622.5 758L1625.7 761.5M1706.3 425.5L1709.5 422L1712.7 425.5M1839.3 401L1842.5 397.5L1845.7 401M1839.3 641.5L1842.5 638L1845.7 641.5M1839.3 785.5L1842.5 782L1845.7 785.5"/>
</g>
</svg>
